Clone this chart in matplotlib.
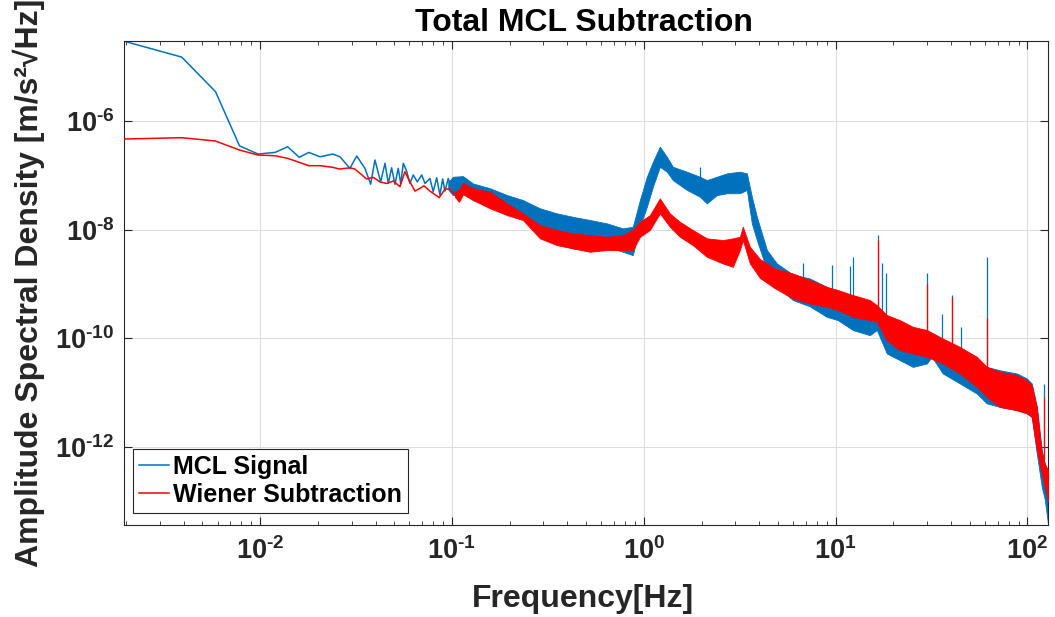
import matplotlib
matplotlib.use('Agg')
import matplotlib.pyplot as plt
from matplotlib.ticker import FixedLocator, NullFormatter

plt.rcParams['font.family'] = ['Liberation Sans', 'DejaVu Sans']
plt.rcParams['font.weight'] = 'bold'
plt.rcParams['mathtext.fontset'] = 'custom'
plt.rcParams['mathtext.rm'] = 'Liberation Sans:bold'
plt.rcParams['mathtext.it'] = 'Liberation Sans:bold'
plt.rcParams['mathtext.bf'] = 'Liberation Sans:bold'
plt.rcParams['mathtext.default'] = 'rm'

BLUE = '#0072BD'
RED = '#FF0000'

# ---------------- data ----------------
# low-frequency part, drawn as explicit lines
blue_line_f = [0.001953, 0.003906, 0.005859, 0.007813, 0.009766, 0.01197, 0.01393, 0.0160,
               0.01793, 0.02053, 0.0239, 0.0261, 0.0294, 0.0319, 0.0352, 0.0377, 0.0397,
               0.0425, 0.0448, 0.0466, 0.0485, 0.0505, 0.0525, 0.0541, 0.0558, 0.0581,
               0.0604, 0.0629, 0.0660, 0.0696, 0.0724, 0.0768, 0.0799, 0.0833, 0.0866,
               0.0895, 0.0920, 0.0957, 0.0997, 0.1037, 0.1079]
blue_line_v = [2.95e-5, 1.5e-5, 3.47e-6, 3.5e-7, 2.47e-7, 2.65e-7, 3.37e-7, 2.15e-7,
               2.65e-7, 2.2e-7, 2.47e-7, 2.2e-7, 1.35e-7, 2.27e-7, 1.35e-7, 6.9e-8, 1.92e-7,
               7.6e-8, 1.67e-7, 7.1e-8, 1.38e-7, 6.85e-8, 1.35e-7, 7.1e-8, 1.67e-7, 1.2e-7,
               7.1e-8, 1.02e-7, 7.6e-8, 1.02e-7, 7.1e-8, 8.8e-8, 5.0e-8, 9.06e-8, 4.35e-8,
               8.6e-8, 5.15e-8, 8.8e-8, 5.4e-8, 7.6e-8, 5.0e-8]

red_line_f = [0.001953, 0.003906, 0.005859, 0.007813, 0.009766, 0.01197, 0.01393, 0.0160,
              0.01793, 0.02053, 0.0239, 0.0259, 0.0294, 0.0312, 0.0332, 0.0359, 0.0389,
              0.0422, 0.0457, 0.0495, 0.0536, 0.0569, 0.0604, 0.0642, 0.0682, 0.0715,
              0.0768, 0.0859, 0.0920, 0.0977, 0.1037, 0.1092]
red_line_v = [4.67e-7, 4.94e-7, 4.29e-7, 2.93e-7, 2.37e-7, 2.3e-7, 2.06e-7, 1.74e-7,
              1.51e-7, 1.51e-7, 1.41e-7, 1.31e-7, 1.38e-7, 1.31e-7, 1.09e-7, 8.6e-8, 9.2e-8,
              7.6e-8, 7.1e-8, 7.9e-8, 6.2e-8, 1.17e-7, 7.6e-8, 5.15e-8, 5.8e-8, 6.45e-8,
              5.15e-8, 3.9e-8, 5.6e-8, 5.6e-8, 4.35e-8, 3.3e-8]

# dense noisy part, drawn as bands (lower / upper envelope of the noise)
blue_band_f = [0.0957, 0.1012, 0.1142, 0.1288, 0.158, 0.1936, 0.2344, 0.2876, 0.3526,
               0.4275, 0.524, 0.6427, 0.7785, 0.877, 0.955, 1.038, 1.116, 1.213, 1.32,
               1.418, 1.678, 1.961, 2.133, 2.405, 2.711, 3.17, 3.447, 3.66, 3.887, 4.385,
               4.94, 5.99, 7.34, 9.0, 10.27, 12.3, 15.08, 16.4, 18.49, 21.6, 25.27, 29.9,
               31.73, 36.2, 44.4, 54.45, 61.4, 71.8, 88.0, 99.2, 105.3, 111.9, 118.8,
               123.1, 128.0]
blue_band_hi = [7.5e-8, 9.45e-8, 9.7e-8, 7.1e-8, 5.8e-8, 4.35e-8, 3.52e-8, 2.48e-8, 2.0e-8,
                1.73e-8, 1.51e-8, 1.31e-8, 1.06e-8, 1.135e-8, 3.52e-8, 9.45e-8, 1.78e-7,
                3.37e-7, 2.2e-7, 1.44e-7, 1.17e-7, 9.45e-8, 8.2e-8, 9.45e-8, 1.09e-7,
                1.17e-7, 1.09e-7, 4.06e-8, 1.73e-8, 4.23e-9, 2.4e-9, 1.5e-9, 1.27e-9,
                8.9e-10, 7.2e-10, 5.46e-10, 4.4e-10, 3.57e-10, 2.18e-10, 1.64e-10,
                1.43e-10, 1.43e-10, 1.24e-10, 8.1e-11, 5.7e-11, 4.0e-11, 3.0e-11, 2.6e-11,
                2.27e-11, 1.84e-11, 1.49e-11, 5.5e-12, 8.8e-13, 5.0e-13, 3.3e-13]
blue_band_lo = [5.5e-8, 4.35e-8, 4.7e-8, 3.52e-8, 2.85e-8, 2.14e-8, 1.62e-8, 8.6e-9, 5.6e-9,
                4.54e-9, 4.23e-9, 4.86e-9, 3.94e-9, 3.42e-9, 1.135e-8, 2.65e-8, 6.2e-8,
                1.44e-7, 1.17e-7, 8.2e-8, 5.4e-8, 4.06e-8, 3.06e-8, 4.35e-8, 4.7e-8,
                4.7e-8, 5.4e-8, 1.31e-8, 6.46e-9, 1.81e-9, 8.9e-10, 5.1e-10, 3.9e-10,
                2.5e-10, 2.18e-10, 1.43e-10, 1.15e-10, 1.43e-10, 5.3e-11, 4.0e-11,
                3.0e-11, 3.47e-11, 4.6e-11, 2.27e-11, 1.49e-11, 9.7e-12, 6.4e-12, 5.5e-12,
                4.8e-12, 4.2e-12, 3.6e-12, 7.65e-13, 1.86e-13, 1.1e-13, 3.9e-14]

red_band_f = [0.1037, 0.1092, 0.1142, 0.1288, 0.158, 0.1936, 0.2344, 0.2876, 0.3526, 0.4275,
              0.524, 0.6427, 0.7785, 0.877, 0.955, 1.076, 1.213, 1.368, 1.542, 1.803,
              2.133, 2.584, 2.915, 3.17, 3.285, 3.574, 4.03, 4.8, 5.99, 7.34, 9.0, 10.27,
              12.3, 15.08, 16.4, 18.49, 21.6, 25.27, 29.9, 36.2, 44.4, 54.45, 61.4, 71.8,
              88.0, 99.2, 105.3, 111.9, 118.8, 123.1, 128.0]
red_band_hi = [5.0e-8, 5.5e-8, 7.3e-8, 5.8e-8, 5.0e-8, 3.06e-8, 2.0e-8, 1.22e-8, 9.9e-9,
               8.6e-9, 7.98e-9, 7.43e-9, 7.98e-9, 9.9e-9, 1.4e-8, 1.86e-8, 3.78e-8, 2.0e-8,
               1.4e-8, 9.9e-9, 6.95e-9, 6.46e-9, 6.95e-9, 7.43e-9, 1.135e-8, 4.86e-9,
               2.9e-9, 1.95e-9, 1.57e-9, 1.19e-9, 8.9e-10, 7.8e-10, 6.3e-10, 5.1e-10,
               4.1e-10, 2.7e-10, 2.18e-10, 1.64e-10, 1.43e-10, 1.0e-10, 7.0e-11, 4.6e-11,
               3.0e-11, 2.43e-11, 2.12e-11, 1.71e-11, 1.38e-11, 5.5e-12, 7.65e-13, 5.0e-13,
               3.8e-13]
red_band_lo = [4.0e-8, 3.3e-8, 4.5e-8, 3.52e-8, 2.48e-8, 1.86e-8, 1.51e-8, 6.95e-9, 5.22e-9,
               4.54e-9, 3.94e-9, 4.23e-9, 4.23e-9, 4.23e-9, 7.43e-9, 9.9e-9, 2.0e-8,
               1.135e-8, 7.43e-9, 5.22e-9, 3.18e-9, 2.4e-9, 2.08e-9, 4.23e-9, 6.46e-9,
               2.4e-9, 1.3e-9, 8.5e-10, 5.46e-10, 4.4e-10, 3.83e-10, 3.33e-10, 2.5e-10,
               2.18e-10, 2.03e-10, 9.3e-11, 6.1e-11, 5.3e-11, 4.6e-11, 3.47e-11, 2.27e-11,
               1.29e-11, 8.4e-12, 5.5e-12, 4.8e-12, 4.2e-12, 3.6e-12, 8.8e-13, 3.3e-13,
               1.86e-13, 1.0e-13]

# narrow spectral lines (frequency, base, peak)
blue_spike_f = [1.96, 6.75, 9.56, 11.87, 12.3, 16.55, 17.36, 18.27, 29.8, 35.7, 40.2,
                45.3, 61.2, 121.7]
blue_spike_base = [9e-8, 1.2e-9, 8e-10, 6e-10, 5.5e-10, 3.5e-10, 3e-10, 2.3e-10, 1.4e-10,
                   9e-11, 7e-11, 5.5e-11, 3e-11, 6e-13]
blue_spike_peak = [1.45e-7, 2.47e-9, 2.24e-9, 2.15e-9, 3.18e-9, 7.98e-9, 2.4e-9, 1.57e-9,
                   1.57e-9, 2.77e-10, 6.3e-10, 1.64e-10, 3.18e-9, 1.45e-11]
red_spike_f = [16.55, 29.8, 40.2, 61.2, 121.7]
red_spike_base = [3.5e-10, 1.4e-10, 7e-11, 3e-11, 6e-13]
red_spike_peak = [6.46e-9, 1.0e-9, 5.9e-10, 2.34e-10, 8.4e-12]

x_ticks = [1e-2, 1e-1, 1e0, 1e1, 1e2]
x_ticklabels = [r'$10^{\text{-}2}$', r'$10^{\text{-}1}$', r'$10^{0}$', r'$10^{1}$', r'$10^{2}$']
y_ticks = [1e-12, 1e-10, 1e-8, 1e-6]
y_ticklabels = [r'$10^{\text{-}12}$', r'$10^{\text{-}10}$', r'$10^{\text{-}8}$', r'$10^{\text{-}6}$']
series_labels = ['MCL Signal', 'Wiener Subtraction']

# ---------------- figure ----------------
fig = plt.figure(figsize=(10.55, 6.17), dpi=100)
ax = fig.add_axes([124 / 1055, 92 / 617, 924 / 1055, 484 / 617])
ax.set_xscale('log')
ax.set_yscale('log')

# blue series
ax.fill_between(blue_band_f, blue_band_lo, blue_band_hi, facecolor=BLUE, edgecolor=BLUE,
                lw=0.6, zorder=2)
ax.vlines(blue_spike_f, blue_spike_base, blue_spike_peak, color=BLUE, lw=0.9, zorder=2)
hb, = ax.plot(blue_line_f, blue_line_v, color=BLUE, lw=1.1, zorder=2)

# red series
ax.fill_between(red_band_f, red_band_lo, red_band_hi, facecolor=RED, edgecolor=RED,
                lw=0.6, zorder=3)
ax.vlines(red_spike_f, red_spike_base, red_spike_peak, color=RED, lw=0.9, zorder=3)
hr, = ax.plot(red_line_f, red_line_v, color=RED, lw=1.1, zorder=3)

ax.set_xlim(1 / 512, 128)
ax.set_ylim(3.7e-14, 2.97e-5)

ax.xaxis.set_major_locator(FixedLocator(x_ticks))
ax.set_xticklabels(x_ticklabels)
minor = [m * 10.0 ** e for e in range(-3, 3) for m in range(2, 10)]
ax.xaxis.set_minor_locator(FixedLocator(minor))
ax.xaxis.set_minor_formatter(NullFormatter())
ax.yaxis.set_major_locator(FixedLocator(y_ticks))
ax.set_yticklabels(y_ticklabels)
ax.yaxis.set_minor_locator(FixedLocator([]))

ax.tick_params(which='both', direction='in', top=True, right=True, color='#262626',
               labelsize=19.5, labelcolor='#262626')
ax.tick_params(which='major', length=6, width=0.8)
ax.tick_params(which='minor', length=3, width=0.6)
ax.tick_params(axis='x', pad=9)
ax.tick_params(axis='y', pad=7)

for s in ax.spines.values():
    s.set_color('#262626')
    s.set_linewidth(0.8)

ax.grid(True, which='major', color='#dedede', lw=0.8)
ax.set_axisbelow(True)

ax.set_xlabel('Frequency[Hz]', fontsize=23, fontweight='bold', color='#262626')
ax.xaxis.set_label_coords(0.4968, -0.122)
ax.set_ylabel('Amplitude Spectral Density [m/s²√Hz]', fontsize=23, fontweight='bold',
              color='#262626')
ax.yaxis.set_label_coords(-0.0855, 0.5)

fig.text(583.5 / 1055, 1 - 31 / 617, 'Total MCL Subtraction', ha='center', va='baseline',
         fontsize=23, fontweight='bold', color='black')

leg = ax.legend([hb, hr], series_labels, loc='lower left',
                bbox_to_anchor=(0.0097, 0.0248), borderaxespad=0, fontsize=18,
                frameon=True, fancybox=False, edgecolor='#262626', framealpha=1,
                handlelength=1.2, handletextpad=0.15, borderpad=0.25, labelspacing=0.15)
leg.get_frame().set_linewidth(0.8)
for t in leg.get_texts():
    t.set_fontweight('bold')

fig.savefig('out.png', dpi=100)
